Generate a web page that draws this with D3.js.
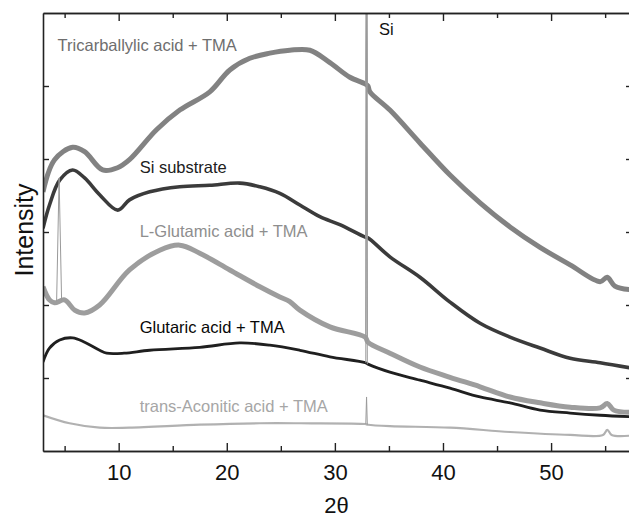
<!DOCTYPE html>
<html>
<head>
<meta charset="utf-8">
<script src="https://cdn.jsdelivr.net/npm/d3@7"></script>
<style>
  body { margin: 0; background: #fff; }
  svg text { font-family: "Liberation Sans", Arial, Helvetica, sans-serif; }
</style>
</head>
<body>
<div id="chart"></div>
<script>
// ---- data: [2theta, intensity (a.u.)] ----
const X_MAJOR = [10, 20, 30, 40, 50];
const X_MINOR = [5, 15, 25, 35, 45, 55];
const Y_TICKS = [1, 2, 3, 4, 5];

const tricarb = [[3.0,3.55],[4.07,3.99],[5.74,4.16],[6.85,4.10],[8.52,3.85],[9.9,3.88],[11.0,3.99],
  [13.5,4.40],[15.65,4.67],[18.43,4.92],[20.28,5.22],[22.13,5.38],[23.98,5.45],[25.83,5.49],
  [27.69,5.49],[29.54,5.32],[31.39,5.12],[32.8,5.03],[33.06,5.0],[33.24,4.92],[35.09,4.67],
  [37.87,4.22],[40.65,3.78],[43.43,3.40],[46.2,3.07],[48.98,2.79],[51.76,2.55],[54.54,2.32],
  [55.19,2.38],[55.9,2.26],[57.3,2.21]];
const tricarbPeaks = [[[32.86,5.03],[32.93,7.5],[33.0,5.0]]];

const siSub = [[3.0,3.05],[3.6,3.37],[4.54,3.71],[5.74,3.85],[6.85,3.74],[8.24,3.51],[9.91,3.30],
  [11.0,3.44],[12.87,3.55],[15.65,3.62],[18.43,3.64],[21.2,3.67],[23.06,3.62],[24.91,3.53],
  [26.76,3.37],[28.61,3.21],[30.46,3.10],[32.8,2.93],[33.06,2.92],[35.09,2.66],[37.87,2.38],
  [40.65,2.04],[43.43,1.75],[46.2,1.56],[48.98,1.41],[51.76,1.27],[54.54,1.21],[57.3,1.14]];
const siSubPeaks = [[[32.86,2.93],[32.93,7.0],[33.0,2.92]]];

const lGlu = [[3.0,2.25],[3.6,2.07],[4.07,2.03],[5.0,2.07],[5.93,1.93],[6.85,1.89],[8.24,2.0],
  [11.0,2.48],[13.8,2.75],[15.65,2.82],[17.5,2.71],[20.28,2.48],[23.06,2.25],[24.91,2.11],
  [25.8,2.05],[26.76,1.93],[29.54,1.70],[32.8,1.56],[33.06,1.49],[35.09,1.34],[37.87,1.15],
  [40.65,1.01],[43.43,0.88],[46.2,0.74],[48.98,0.66],[51.76,0.60],[54.54,0.59],[55.2,0.65],
  [55.8,0.56],[57.3,0.53]];
const lGluPeaks = [[[4.26,2.05],[4.49,3.74],[4.72,2.06]], [[32.86,1.56],[32.93,7.0],[33.0,1.5]]];

const glutaric = [[3.0,1.22],[3.6,1.41],[4.54,1.52],[5.74,1.55],[6.85,1.49],[8.24,1.38],[8.89,1.34],
  [10.5,1.34],[12.87,1.38],[17.5,1.42],[21.2,1.48],[23.98,1.45],[26.76,1.38],[29.54,1.29],
  [32.8,1.21],[33.06,1.19],[35.09,1.08],[37.87,0.97],[40.65,0.86],[43.43,0.74],[46.2,0.66],
  [48.98,0.56],[51.76,0.52],[54.54,0.49],[57.3,0.47]];
const glutaricPeaks = [[[32.86,1.21],[32.93,7.0],[33.0,1.19]]];

const aconitic = [[3.0,0.49],[5.46,0.38],[8.24,0.32],[11.0,0.32],[17.5,0.36],[23.06,0.38],
  [26.76,0.38],[32.8,0.37],[33.06,0.36],[35.09,0.34],[40.65,0.32],[46.2,0.26],[51.76,0.22],
  [54.8,0.22],[55.2,0.29],[55.6,0.22],[57.3,0.21]];
const aconiticPeaks = [[[32.86,0.37],[32.93,0.74],[33.0,0.36]]];

const LABELS = ["Tricarballylic acid + TMA", "Si substrate", "L-Glutamic acid + TMA",
                "Glutaric acid + TMA", "trans-Aconitic acid + TMA"];
// label anchor in data coords [2theta, intensity]
const LABEL_AT = [[4.35,5.48],[11.94,3.81],[11.94,2.93],[11.94,1.62],[11.94,0.53]];

// ---- layout ----
const FRAME_WIDTH = 629;
const FRAME_HEIGHT = 518;
const PLOT = {left: 43, right: 630, top: 13, bottom: 451};

const xScale = d3.scaleLinear().domain([3, 57.3]).range([PLOT.left, PLOT.right]);
const yScale = d3.scaleLinear().domain([0, 6]).range([PLOT.bottom, PLOT.top]);

const svg = d3.select("#chart").append("svg")
  .attr("width", FRAME_WIDTH)
  .attr("height", FRAME_HEIGHT);

svg.append("clipPath").attr("id", "plotclip")
  .append("rect")
    .attr("x", PLOT.left).attr("y", PLOT.top)
    .attr("width", PLOT.right - PLOT.left).attr("height", PLOT.bottom - PLOT.top);

// band = apparent thickness of the noisy trace
const series = [
  {base: tricarb,  peaks: tricarbPeaks,  color: "#777777", label: "#6e6e6e", band: 5},
  {base: siSub,    peaks: siSubPeaks,    color: "#2a2a2a", label: "#202020", band: 3.6},
  {base: lGlu,     peaks: lGluPeaks,     color: "#959595", label: "#8e8e8e", band: 5},
  {base: glutaric, peaks: glutaricPeaks, color: "#0c0c0c", label: "#080808", band: 2.8},
  {base: aconitic, peaks: aconiticPeaks, color: "#aaaaaa", label: "#a6a6a6", band: 2.2}
];

const line = d3.line()
  .x(d => xScale(d[0]))
  .y(d => yScale(d[1]))
  .curve(d3.curveCatmullRom.alpha(0.5));

const spikeLine = d3.line()
  .x(d => xScale(d[0]))
  .y(d => yScale(d[1]));

const curves = svg.append("g").attr("clip-path", "url(#plotclip)");

// draw order: bottom traces first, tricarballylic last
[4, 3, 2, 1, 0].forEach(i => {
  const s = series[i];
  curves.append("path")
    .datum(s.base)
    .attr("d", line)
    .attr("fill", "none")
    .attr("stroke", s.color)
    .attr("stroke-opacity", 0.92)
    .attr("stroke-width", s.band)
    .attr("stroke-linejoin", "round");
});

// sharp peaks (light grey thin lines, as in the scan)
series.forEach(s => {
  s.peaks.forEach(p => {
    curves.append("path")
      .datum(p)
      .attr("d", spikeLine)
      .attr("fill", "none")
      .attr("stroke", "#9a9a9a")
      .attr("stroke-width", 1);
  });
});

// labels
LABELS.forEach((txt, i) => {
  svg.append("text")
    .attr("x", xScale(LABEL_AT[i][0]))
    .attr("y", yScale(LABEL_AT[i][1]))
    .attr("font-size", "16.5px")
    .attr("fill", series[i].label)
    .text(txt);
});

svg.append("text")
  .attr("x", xScale(34.07))
  .attr("y", yScale(5.70))
  .attr("font-size", "16.5px")
  .attr("fill", "#111")
  .text("Si");

// ---- axes ----
const axisStyle = g => {
  g.selectAll(".domain").attr("stroke", "#222").attr("stroke-width", 1.6);
  g.selectAll(".tick line").attr("stroke", "#222").attr("stroke-width", 1.4);
};

// bottom major with labels
svg.append("g")
  .attr("transform", "translate(0," + PLOT.bottom + ")")
  .call(d3.axisBottom(xScale).tickValues(X_MAJOR).tickSizeInner(-8).tickSizeOuter(0).tickPadding(13))
  .attr("font-size", "22px")
  .attr("font-family", "Liberation Sans, Arial, sans-serif")
  .call(axisStyle)
  .call(g => g.selectAll("text").attr("fill", "#111"));

// bottom minor
svg.append("g")
  .attr("transform", "translate(0," + PLOT.bottom + ")")
  .call(d3.axisBottom(xScale).tickValues(X_MINOR).tickSizeInner(-5).tickSizeOuter(0).tickFormat(""))
  .call(axisStyle);

// top major + minor
svg.append("g")
  .attr("transform", "translate(0," + PLOT.top + ")")
  .call(d3.axisTop(xScale).tickValues(X_MAJOR).tickSizeInner(-8).tickSizeOuter(0).tickFormat(""))
  .call(axisStyle);
svg.append("g")
  .attr("transform", "translate(0," + PLOT.top + ")")
  .call(d3.axisTop(xScale).tickValues(X_MINOR).tickSizeInner(-5).tickSizeOuter(0).tickFormat(""))
  .call(axisStyle);

// left
svg.append("g")
  .attr("transform", "translate(" + PLOT.left + ",0)")
  .call(d3.axisLeft(yScale).tickValues(Y_TICKS).tickSizeInner(-6).tickSizeOuter(0).tickFormat(""))
  .call(axisStyle);

// right (mostly outside the frame)
svg.append("g")
  .attr("transform", "translate(" + PLOT.right + ",0)")
  .call(d3.axisRight(yScale).tickValues(Y_TICKS).tickSizeInner(-4).tickSizeOuter(0).tickFormat(""))
  .call(axisStyle);

// axis titles
svg.append("text")
  .attr("x", (PLOT.left + PLOT.right) / 2)
  .attr("y", 513)
  .attr("text-anchor", "middle")
  .attr("font-size", "22px")
  .attr("fill", "#111")
  .text("2θ");

svg.append("text")
  .attr("transform", "translate(33," + 230 + ") rotate(-90)")
  .attr("text-anchor", "middle")
  .attr("font-size", "25px")
  .attr("fill", "#111")
  .text("Intensity");
</script>
</body>
</html>
